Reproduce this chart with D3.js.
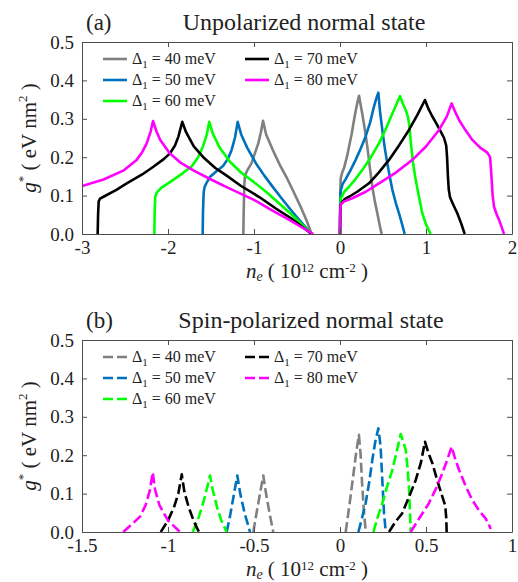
<!DOCTYPE html>
<html>
<head>
<meta charset="utf-8">
<script src="https://cdn.jsdelivr.net/npm/d3@7"></script>
<style>
  body { margin: 0; background: #fff; }
  svg { display: block; }
  svg text { font-family: "Liberation Serif", "DejaVu Serif", "Times New Roman", Times, serif !important; }
</style>
</head>
<body>
<div id="chart"></div>
<script>
// values: [n_e (1e12 cm^-2), g* (eV nm^2)]
const deltas = [40, 50, 60, 70, 80];
const seriesColors = ["#808080", "#0072BD", "#00FF00", "#000000", "#FF00FF"];

const yTicks = [0, 0.1, 0.2, 0.3, 0.4, 0.5];
const xTicksA = [-3, -2, -1, 0, 1, 2];
const xTicksB = [-1.5, -1, -0.5, 0, 0.5, 1];

// (a) unpolarized, hole side
const unpolNeg40 = [[-1.124,0],[-1.12,0.06],[-1.112,0.13],[-1.105,0.152],[-1.08,0.165],[-1.03,0.184],[-0.99,0.21],[-0.95,0.236],[-0.92,0.265],[-0.895,0.295],[-0.86,0.26],[-0.78,0.218],[-0.70,0.18],[-0.62,0.147],[-0.54,0.11],[-0.46,0.072],[-0.39,0.036],[-0.33,0]];
const unpolNeg50 = [[-1.597,0],[-1.593,0.06],[-1.585,0.108],[-1.575,0.122],[-1.55,0.134],[-1.51,0.149],[-1.44,0.163],[-1.36,0.177],[-1.3,0.197],[-1.26,0.219],[-1.22,0.252],[-1.19,0.292],[-1.15,0.26],[-1.08,0.225],[-0.98,0.185],[-0.88,0.152],[-0.78,0.122],[-0.68,0.093],[-0.58,0.065],[-0.48,0.038],[-0.33,0]];
const unpolNeg60 = [[-2.159,0],[-2.155,0.06],[-2.148,0.098],[-2.13,0.108],[-2.08,0.12],[-2.0,0.132],[-1.915,0.145],[-1.83,0.158],[-1.72,0.177],[-1.65,0.2],[-1.59,0.23],[-1.55,0.258],[-1.52,0.292],[-1.48,0.262],[-1.40,0.225],[-1.28,0.188],[-1.15,0.16],[-1.0,0.135],[-0.85,0.108],[-0.70,0.078],[-0.55,0.048],[-0.33,0]];
const unpolNeg70 = [[-2.818,0],[-2.813,0.05],[-2.806,0.085],[-2.79,0.092],[-2.75,0.097],[-2.6,0.115],[-2.48,0.132],[-2.3,0.155],[-2.17,0.175],[-2.05,0.195],[-1.977,0.21],[-1.92,0.23],[-1.88,0.253],[-1.834,0.292],[-1.79,0.265],[-1.70,0.228],[-1.59,0.2],[-1.45,0.172],[-1.318,0.152],[-1.15,0.125],[-0.93,0.095],[-0.75,0.067],[-0.55,0.038],[-0.33,0]];
const unpolNeg80 = [[-3.05,0.12],[-3.0,0.125],[-2.75,0.142],[-2.52,0.165],[-2.365,0.193],[-2.3,0.213],[-2.248,0.236],[-2.2,0.268],[-2.174,0.294],[-2.13,0.265],[-2.09,0.245],[-1.98,0.21],[-1.85,0.185],[-1.7,0.165],[-1.5,0.142],[-1.3,0.12],[-1.0,0.089],[-0.8,0.063],[-0.6,0.038],[-0.31,0]];

// (a) unpolarized, electron side
const unpolPos40 = [[0,0],[0.003,0.1],[0.008,0.145],[0.025,0.16],[0.047,0.172],[0.08,0.2],[0.105,0.227],[0.135,0.26],[0.163,0.297],[0.195,0.335],[0.221,0.36],[0.245,0.33],[0.26,0.312],[0.29,0.27],[0.318,0.227],[0.346,0.175],[0.376,0.123],[0.405,0.085],[0.434,0.054],[0.46,0.025],[0.484,0]];
const unpolPos50 = [[0,0],[0.003,0.08],[0.008,0.112],[0.03,0.13],[0.066,0.143],[0.12,0.165],[0.182,0.193],[0.24,0.222],[0.298,0.254],[0.35,0.29],[0.395,0.332],[0.425,0.355],[0.446,0.368],[0.465,0.32],[0.492,0.271],[0.52,0.225],[0.55,0.184],[0.58,0.148],[0.609,0.115],[0.65,0.08],[0.686,0.054],[0.72,0.027],[0.752,0]];
const unpolPos60 = [[0,0],[0.003,0.07],[0.008,0.092],[0.05,0.11],[0.105,0.123],[0.18,0.143],[0.26,0.167],[0.36,0.2],[0.453,0.236],[0.53,0.272],[0.609,0.314],[0.66,0.34],[0.698,0.359],[0.73,0.34],[0.764,0.323],[0.79,0.305],[0.805,0.285],[0.815,0.26],[0.825,0.235],[0.85,0.185],[0.88,0.141],[0.92,0.095],[0.957,0.054],[1.0,0.025],[1.054,0]];
const unpolPos70 = [[0,0],[0.003,0.06],[0.008,0.077],[0.05,0.09],[0.105,0.097],[0.2,0.11],[0.337,0.132],[0.45,0.16],[0.57,0.193],[0.69,0.232],[0.802,0.271],[0.9,0.31],[0.988,0.349],[1.03,0.325],[1.074,0.306],[1.12,0.288],[1.17,0.267],[1.21,0.25],[1.235,0.23],[1.245,0.2],[1.255,0.15],[1.265,0.115],[1.28,0.095],[1.32,0.075],[1.364,0.054],[1.41,0.027],[1.45,0]];
const unpolPos80 = [[0,0],[0.003,0.06],[0.008,0.077],[0.05,0.085],[0.143,0.093],[0.3,0.11],[0.453,0.132],[0.65,0.16],[0.841,0.193],[1.0,0.228],[1.151,0.271],[1.24,0.305],[1.298,0.34],[1.34,0.318],[1.384,0.297],[1.46,0.27],[1.539,0.245],[1.63,0.225],[1.713,0.212],[1.745,0.2],[1.755,0.17],[1.764,0.14],[1.775,0.1],[1.791,0.071],[1.82,0.052],[1.849,0.037],[1.88,0.018],[1.907,0]];

// (b) spin-polarized, hole side
const polNeg40 = [[-0.504,0],[-0.485,0.05],[-0.465,0.1],[-0.446,0.147],[-0.43,0.1],[-0.41,0.05],[-0.388,0]];
const polNeg50 = [[-0.659,0],[-0.64,0.04],[-0.62,0.09],[-0.597,0.147],[-0.58,0.1],[-0.555,0.05],[-0.523,0]];
const polNeg60 = [[-0.856,0],[-0.82,0.04],[-0.79,0.085],[-0.77,0.12],[-0.756,0.147],[-0.74,0.11],[-0.715,0.065],[-0.69,0.03],[-0.659,0]];
const polNeg70 = [[-1.042,0],[-1.0,0.03],[-0.965,0.065],[-0.94,0.1],[-0.92,0.15],[-0.905,0.105],[-0.88,0.065],[-0.85,0.028],[-0.82,0]];
const polNeg80 = [[-1.26,0],[-1.21,0.02],[-1.163,0.04],[-1.13,0.07],[-1.105,0.109],[-1.089,0.155],[-1.075,0.11],[-1.05,0.07],[-1.0,0.03],[-0.93,0]];

// (b) spin-polarized, electron side
const polPos40 = [[0.033,0],[0.055,0.07],[0.075,0.14],[0.095,0.21],[0.11,0.253],[0.12,0.2],[0.128,0.13],[0.138,0.06],[0.15,0]];
const polPos50 = [[0.107,0],[0.13,0.04],[0.149,0.075],[0.17,0.13],[0.188,0.188],[0.205,0.235],[0.223,0.27],[0.23,0.245],[0.236,0.222],[0.246,0.135],[0.256,0.049],[0.266,0]];
const polPos60 = [[0.194,0],[0.22,0.04],[0.246,0.075],[0.275,0.12],[0.304,0.161],[0.33,0.21],[0.353,0.255],[0.37,0.232],[0.382,0.214],[0.392,0.17],[0.401,0.118],[0.406,0.06],[0.411,0]];
const polPos70 = [[0.285,0],[0.32,0.025],[0.362,0.049],[0.40,0.09],[0.44,0.135],[0.47,0.18],[0.494,0.235],[0.515,0.205],[0.537,0.179],[0.565,0.135],[0.595,0.092],[0.612,0.068],[0.618,0.035],[0.62,0]];
const polPos80 = [[0.411,0],[0.46,0.035],[0.517,0.075],[0.56,0.115],[0.595,0.153],[0.625,0.19],[0.649,0.222],[0.67,0.19],[0.692,0.162],[0.73,0.12],[0.769,0.083],[0.81,0.055],[0.847,0.035],[0.865,0.02],[0.876,0.008]];

const unpolCurves = [
    [unpolNeg40, unpolPos40], [unpolNeg50, unpolPos50], [unpolNeg60, unpolPos60],
    [unpolNeg70, unpolPos70], [unpolNeg80, unpolPos80]
];
const polCurves = [
    [polNeg40, polPos40], [polNeg50, polPos50], [polNeg60, polPos60],
    [polNeg70, polPos70], [polNeg80, polPos80]
];

const W = 518, H = 582;
const left = 82, right = 512;

const svg = d3.select("#chart")
    .append("svg")
    .attr("width", W)
    .attr("height", H);

function drawPanel(opts) {
    const top = opts.top, bottom = opts.top + 192;

    const x = d3.scaleLinear().domain(opts.xDomain).range([left, right]);
    const y = d3.scaleLinear().domain([0, 0.5]).range([bottom, top]);

    const g = svg.append("g");

    g.append("clipPath").attr("id", opts.id + "-clip")
        .append("rect")
        .attr("x", left).attr("y", top)
        .attr("width", right - left).attr("height", bottom - top);

    // curves
    const line = d3.line().x(d => x(d[0])).y(d => y(d[1]));
    const curveG = g.append("g").attr("clip-path", `url(#${opts.id}-clip)`);
    opts.curves.forEach((pair, i) => {
        pair.forEach(pts => {
            curveG.append("path")
                .datum(pts)
                .attr("d", line)
                .attr("fill", "none")
                .attr("stroke", seriesColors[i])
                .attr("stroke-width", 2.6)
                .attr("stroke-linejoin", "round")
                .attr("stroke-dasharray", opts.dashed ? "10,4" : null);
        });
    });

    // axes: inward ticks on all four sides, labels left and bottom
    const axisColor = "#4d4d4d";
    const tickLen = 5;
    const bx = g.append("g").attr("transform", `translate(0,${bottom})`)
        .call(d3.axisBottom(x).tickValues(opts.xTicks).tickSizeInner(-tickLen).tickSizeOuter(0)
            .tickPadding(7).tickFormat(d => String(d)));
    const tx = g.append("g").attr("transform", `translate(0,${top})`)
        .call(d3.axisTop(x).tickValues(opts.xTicks).tickSizeInner(-tickLen).tickSizeOuter(0).tickFormat(""));
    const ly = g.append("g").attr("transform", `translate(${left},0)`)
        .call(d3.axisLeft(y).tickValues(yTicks).tickSizeInner(-tickLen).tickSizeOuter(0)
            .tickPadding(8).tickFormat(d3.format(".1f")));
    const ry = g.append("g").attr("transform", `translate(${right},0)`)
        .call(d3.axisRight(y).tickValues(yTicks).tickSizeInner(-tickLen).tickSizeOuter(0).tickFormat(""));

    [bx, tx, ly, ry].forEach(a => {
        a.attr("font-size", 19);
        a.select(".domain").attr("stroke", axisColor);
        a.selectAll(".tick line").attr("stroke", axisColor);
        a.selectAll("text").attr("fill", "#222");
    });

    // title
    g.append("text")
        .attr("x", 86).attr("y", top - 12)
        .attr("font-size", 23).attr("fill", "#222")
        .text(opts.tag);
    g.append("text")
        .attr("x", opts.titleX).attr("y", top - 12)
        .attr("text-anchor", "middle")
        .attr("font-size", 24).attr("fill", "#222")
        .text(opts.title);

    // y label
    const yl = g.append("text")
        .attr("transform", `translate(36,${(top + bottom) / 2}) rotate(-90)`)
        .attr("text-anchor", "middle")
        .attr("font-size", 21).attr("fill", "#222");
    yl.append("tspan").attr("font-style", "italic").text("g");
    yl.append("tspan").attr("font-size", 13).attr("dy", -9).text("*");
    yl.append("tspan").attr("dy", 9).text(" ( eV nm");
    yl.append("tspan").attr("font-size", 13).attr("dy", -9).text("2");
    yl.append("tspan").attr("dy", 9).text(" )");

    // x label
    const xl = g.append("text")
        .attr("x", 307).attr("y", bottom + 44)
        .attr("text-anchor", "middle")
        .attr("font-size", 21).attr("fill", "#222");
    xl.append("tspan").attr("font-style", "italic").text("n");
    xl.append("tspan").attr("font-style", "italic").attr("font-size", 14).attr("dy", 3).text("e");
    xl.append("tspan").attr("dy", -3).text(" ( 10");
    xl.append("tspan").attr("font-size", 13).attr("dy", -6).text("12");
    xl.append("tspan").attr("dy", 6).text(" cm");
    xl.append("tspan").attr("font-size", 13).attr("dy", -6).text("-2");
    xl.append("tspan").attr("dy", 6).text(" )");

    // legend: two columns, no box
    const cols = [{ lx: 103, tx: 132 }, { lx: 245, tx: 274 }];
    deltas.forEach((dv, i) => {
        const col = cols[i < 3 ? 0 : 1];
        const row = i < 3 ? i : i - 3;
        const cy = top + 17 + row * 21;
        g.append("line")
            .attr("x1", col.lx).attr("x2", col.lx + 24)
            .attr("y1", cy).attr("y2", cy)
            .attr("stroke", seriesColors[i])
            .attr("stroke-width", 2.6)
            .attr("stroke-dasharray", opts.dashed ? "10,4" : null);
        const t = g.append("text")
            .attr("x", col.tx).attr("y", cy + 5)
            .attr("font-size", 16).attr("fill", "#222");
        t.append("tspan").text("Δ");
        t.append("tspan").attr("font-size", 11).attr("dy", 4).text("1");
        t.append("tspan").attr("dy", -4).text(` = ${dv} meV`);
    });
}

drawPanel({
    id: "pa", top: 42, xDomain: [-3, 2], xTicks: xTicksA,
    curves: unpolCurves, dashed: false,
    tag: "(a)", title: "Unpolarized normal state", titleX: 304
});

drawPanel({
    id: "pb", top: 340, xDomain: [-1.5, 1], xTicks: xTicksB,
    curves: polCurves, dashed: true,
    tag: "(b)", title: "Spin-polarized normal state", titleX: 311
});
</script>
</body>
</html>
